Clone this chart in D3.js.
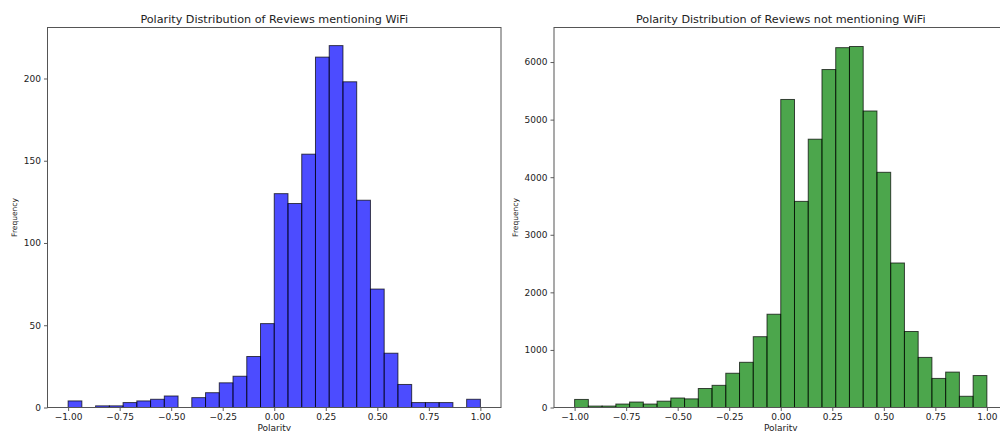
<!DOCTYPE html>
<html>
<head>
<meta charset="utf-8">
<script src="https://cdn.jsdelivr.net/npm/d3@7"></script>
<style>
  html, body { margin: 0; padding: 0; background: #fff; }
  svg { display: block; font-family: "DejaVu Sans", sans-serif; }
</style>
</head>
<body>
<svg id="chart" width="1000" height="431"></svg>
<script>
// Histogram bin layout shared by both panels: 30 equal bins over [-1, 1]
const binRange = [-1, 1];
const binCount = 30;

// Counts per bin, reviews that mention WiFi
const wifiCounts = [4, 0, 1, 1, 3, 4, 5, 7, 0, 6, 9, 15, 19, 31, 51,
                    130, 124, 154, 213, 220, 198, 126, 72, 33, 14, 3, 3, 3, 0, 5];

// Counts per bin, reviews that do not mention WiFi
const noWifiCounts = [140, 25, 25, 60, 95, 60, 110, 165, 150, 330, 385, 595, 785, 1230, 1620,
                      5350, 3580, 4660, 5870, 6250, 6270, 5150, 4085, 2510, 1320, 870, 505, 615, 195, 555];

// Axis ticks
const xTicks = [-1.0, -0.75, -0.5, -0.25, 0.0, 0.25, 0.5, 0.75, 1.0];
const wifiYTicks = [0, 50, 100, 150, 200];
const noWifiYTicks = [0, 1000, 2000, 3000, 4000, 5000, 6000];

const titles = [
  "Polarity Distribution of Reviews mentioning WiFi",
  "Polarity Distribution of Reviews not mentioning WiFi"
];
const xLabel = "Polarity";
const yLabel = "Frequency";

const svg = d3.select("#chart");

function drawPanel(opts) {
  const { left, width, top, bottom, counts, yTicks, yMax, fill, title } = opts;
  const g = svg.append("g");

  const x = d3.scaleLinear().domain([-1.1, 1.1]).range([left, left + width]);
  const y = d3.scaleLinear().domain([0, yMax]).range([bottom, top]);

  const edge = d3.scaleLinear().domain([0, binCount]).range(binRange);
  const bins = counts.map((c, i) => ({ x0: edge(i), x1: edge(i + 1), count: c }));

  // bars
  g.append("g")
    .selectAll("rect")
    .data(bins.filter(d => d.count > 0))
    .join("rect")
    .attr("x", d => x(d.x0))
    .attr("width", d => x(d.x1) - x(d.x0))
    .attr("y", d => y(d.count))
    .attr("height", d => y(0) - y(d.count))
    .attr("fill", fill)
    .attr("fill-opacity", 0.7)
    .attr("stroke", "#000")
    .attr("stroke-opacity", 0.7)
    .attr("stroke-width", 1);

  // x axis
  const xAxis = d3.axisBottom(x)
    .tickValues(xTicks)
    .tickFormat(d3.format(".2f"))
    .tickSize(3.5)
    .tickPadding(2.5);
  const gx = g.append("g")
    .attr("transform", `translate(0,${bottom})`)
    .call(xAxis);

  // y axis
  const yAxis = d3.axisLeft(y)
    .tickValues(yTicks)
    .tickFormat(d3.format("d"))
    .tickSize(3.5)
    .tickPadding(3);
  const gy = g.append("g")
    .attr("transform", `translate(${left},0)`)
    .call(yAxis);

  [gx, gy].forEach(ax => {
    ax.select(".domain").remove();
    ax.selectAll(".tick line").attr("stroke", "#333").attr("stroke-width", 0.8);
    ax.selectAll(".tick text")
      .attr("fill", "#222")
      .style("font-family", "DejaVu Sans")
      .style("font-size", "9px");
  });

  // frame
  g.append("rect")
    .attr("x", left)
    .attr("y", top)
    .attr("width", width)
    .attr("height", bottom - top)
    .attr("fill", "none")
    .attr("stroke", "#555")
    .attr("stroke-width", 1);

  // title
  g.append("text")
    .attr("x", left + width / 2)
    .attr("y", top - 5)
    .attr("text-anchor", "middle")
    .attr("fill", "#222")
    .style("font-size", "11.2px")
    .text(title);

  // axis labels
  g.append("text")
    .attr("x", left + width / 2)
    .attr("y", bottom + 23)
    .attr("text-anchor", "middle")
    .attr("fill", "#222")
    .style("font-size", "9px")
    .text(xLabel);

  g.append("text")
    .attr("transform", `translate(${opts.yLabelX},${(top + bottom) / 2}) rotate(-90)`)
    .attr("text-anchor", "middle")
    .attr("fill", "#222")
    .style("font-size", "7.5px")
    .text(yLabel);
}

drawPanel({
  left: 47.5, width: 453.5, top: 27.5, bottom: 407.5,
  counts: wifiCounts, yTicks: wifiYTicks, yMax: 231,
  fill: "#0000ff", title: titles[0], yLabelX: 16.5
});

drawPanel({
  left: 554, width: 453.5, top: 27.5, bottom: 407.5,
  counts: noWifiCounts, yTicks: noWifiYTicks, yMax: 6600,
  fill: "#008000", title: titles[1], yLabelX: 518
});
</script>
</body>
</html>
